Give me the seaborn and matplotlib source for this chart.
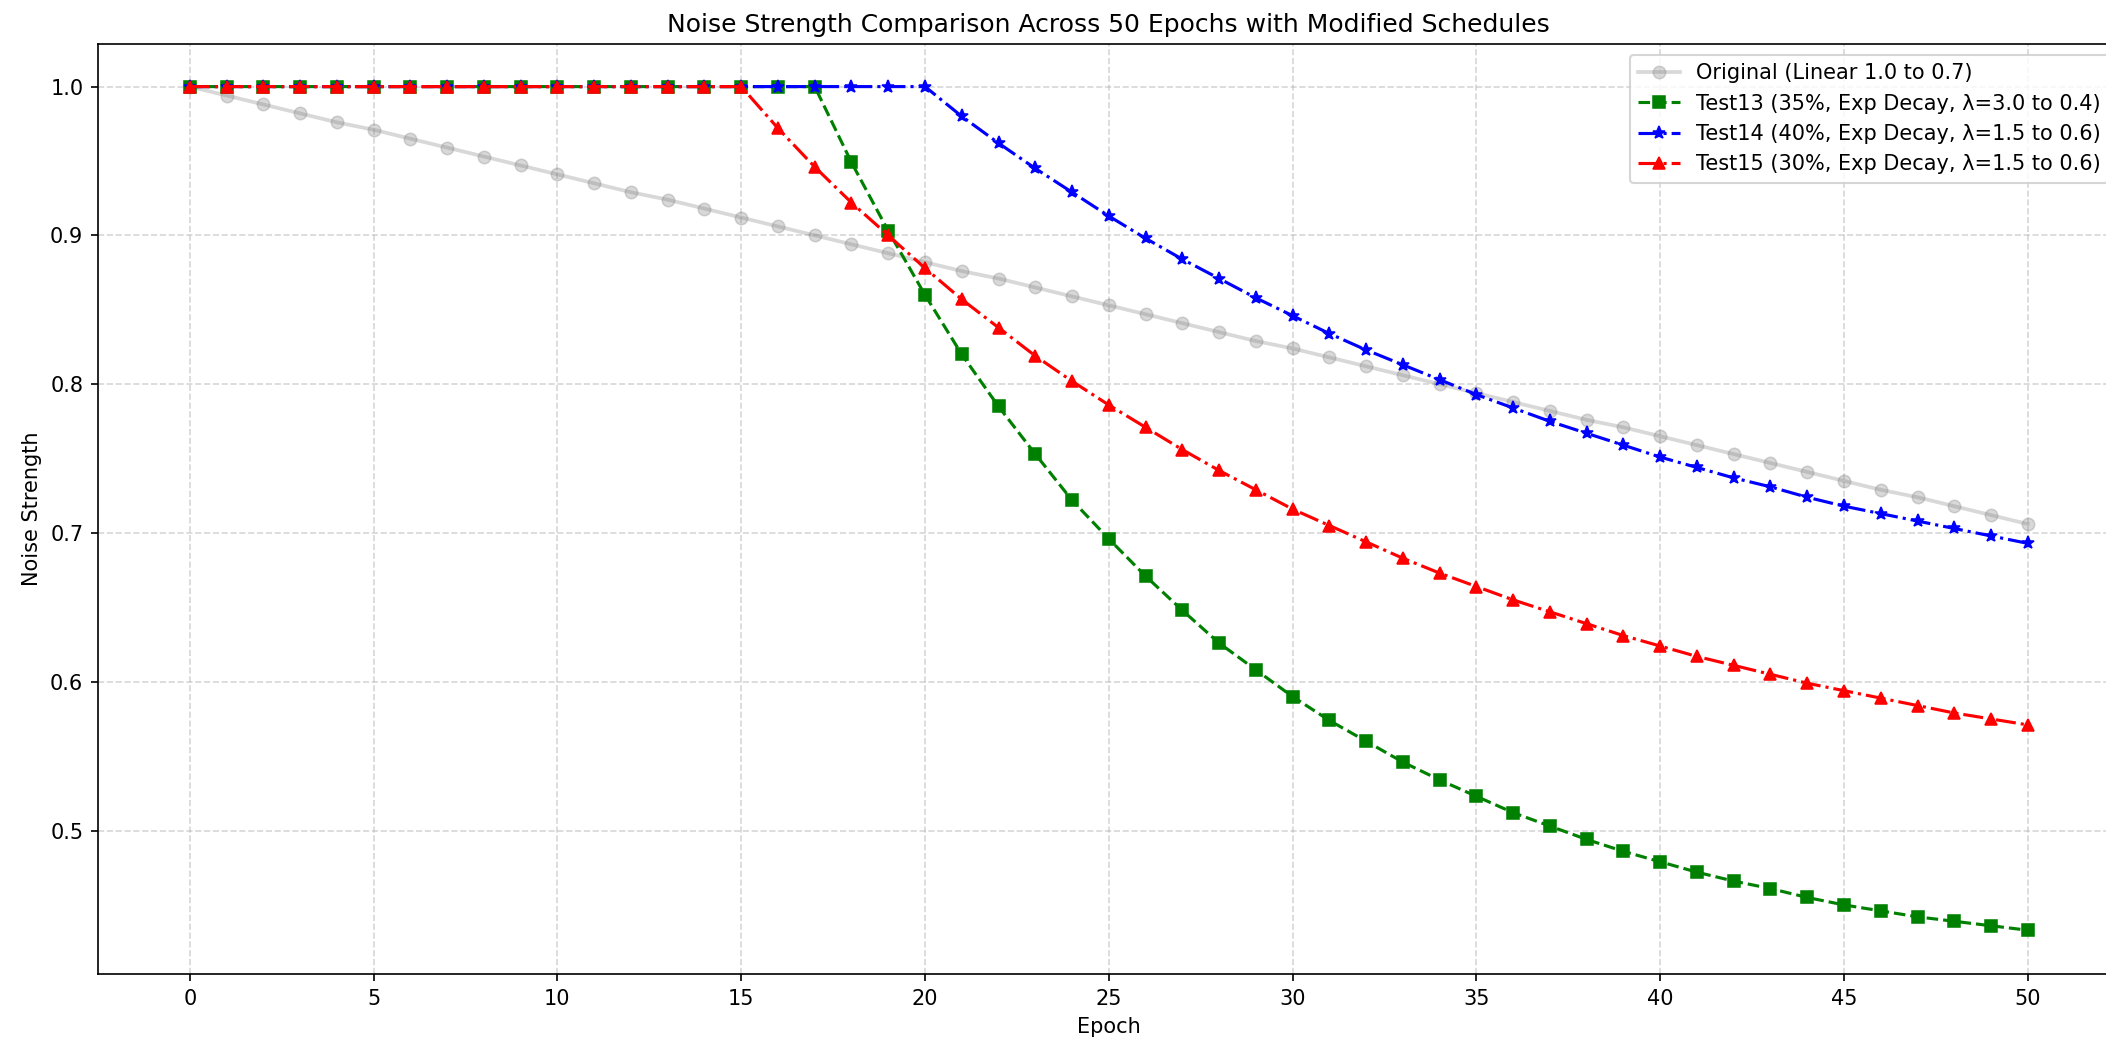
"""
Noise strength schedules over 50 epochs: linear baseline vs. three exp-decay variants.
"""

import numpy as np
import pandas as pd
import matplotlib
matplotlib.use("Agg")
import matplotlib.pyplot as plt
import seaborn as sns

epochs = list(range(51))

original = [1.000, 0.994, 0.988, 0.982, 0.976, 0.971, 0.965, 0.959, 0.953, 0.947,
            0.941, 0.935, 0.929, 0.924, 0.918, 0.912, 0.906, 0.900, 0.894, 0.888,
            0.882, 0.876, 0.871, 0.865, 0.859, 0.853, 0.847, 0.841, 0.835, 0.829,
            0.824, 0.818, 0.812, 0.806, 0.800, 0.794, 0.788, 0.782, 0.776, 0.771,
            0.765, 0.759, 0.753, 0.747, 0.741, 0.735, 0.729, 0.724, 0.718, 0.712,
            0.706]

test13 = [1.000] * 18 + [0.949, 0.903, 0.860, 0.820, 0.785, 0.753, 0.722, 0.696,
                         0.671, 0.648, 0.626, 0.608, 0.590, 0.574, 0.560, 0.546,
                         0.534, 0.523, 0.512, 0.503, 0.494, 0.486, 0.479, 0.472,
                         0.466, 0.461, 0.455, 0.450, 0.446, 0.442, 0.439, 0.436,
                         0.433]

test14 = [1.000] * 21 + [0.980, 0.962, 0.945, 0.929, 0.913, 0.898, 0.884, 0.871,
                         0.858, 0.846, 0.834, 0.823, 0.813, 0.803, 0.793, 0.784,
                         0.775, 0.767, 0.759, 0.751, 0.744, 0.737, 0.731, 0.724,
                         0.718, 0.713, 0.708, 0.703, 0.698, 0.693]

test15 = [1.000] * 16 + [0.972, 0.946, 0.922, 0.900, 0.878, 0.857, 0.838, 0.819,
                         0.802, 0.786, 0.771, 0.756, 0.742, 0.729, 0.716, 0.705,
                         0.694, 0.683, 0.673, 0.664, 0.655, 0.647, 0.639, 0.631,
                         0.624, 0.617, 0.611, 0.605, 0.599, 0.594, 0.589, 0.584,
                         0.579, 0.575, 0.571]

labels = [
    "Original (Linear 1.0 to 0.7)",
    "Test13 (35%, Exp Decay, λ=3.0 to 0.4)",
    "Test14 (40%, Exp Decay, λ=1.5 to 0.6)",
    "Test15 (30%, Exp Decay, λ=1.5 to 0.6)",
]

df = pd.DataFrame({"Epoch": epochs, "original": original, "test13": test13,
                   "test14": test14, "test15": test15})

fig = plt.figure(figsize=(14.04, 6.94), dpi=150)
# axes runs a bit past the right edge, like the cropped source image
ax = fig.add_axes([0.0465, 0.0644, 0.960, 0.893])

# seaborn gives markers a white edge by default, so set edge colours explicitly
sns.lineplot(data=df, x="Epoch", y="original", ax=ax, color="gray", alpha=0.3,
             marker="o", markersize=6, markeredgecolor="gray", linewidth=1.8,
             label=labels[0])
sns.lineplot(data=df, x="Epoch", y="test13", ax=ax, color="green", linestyle="--",
             marker="s", markersize=6, markeredgecolor="green", label=labels[1])
sns.lineplot(data=df, x="Epoch", y="test14", ax=ax, color="blue", linestyle="-.",
             marker="*", markersize=6.5, markeredgecolor="blue", label=labels[2])
sns.lineplot(data=df, x="Epoch", y="test15", ax=ax, color="red", linestyle="-.",
             marker="^", markersize=6, markeredgecolor="red", label=labels[3])

ax.set_xlim(-2.5, 52.5)
ax.set_ylim(0.4036, 1.0284)
ax.set_xticks(np.arange(0, 51, 5))
ax.set_yticks([0.5, 0.6, 0.7, 0.8, 0.9, 1.0])
ax.set_title("Noise Strength Comparison Across 50 Epochs with Modified Schedules", fontsize=12)
ax.set_xlabel("Epoch")
ax.set_ylabel("Noise Strength")
ax.grid(True, linestyle="--", alpha=0.5)
ax.legend(loc="upper right", fontsize=10)

fig.savefig("out.png", dpi=150)
